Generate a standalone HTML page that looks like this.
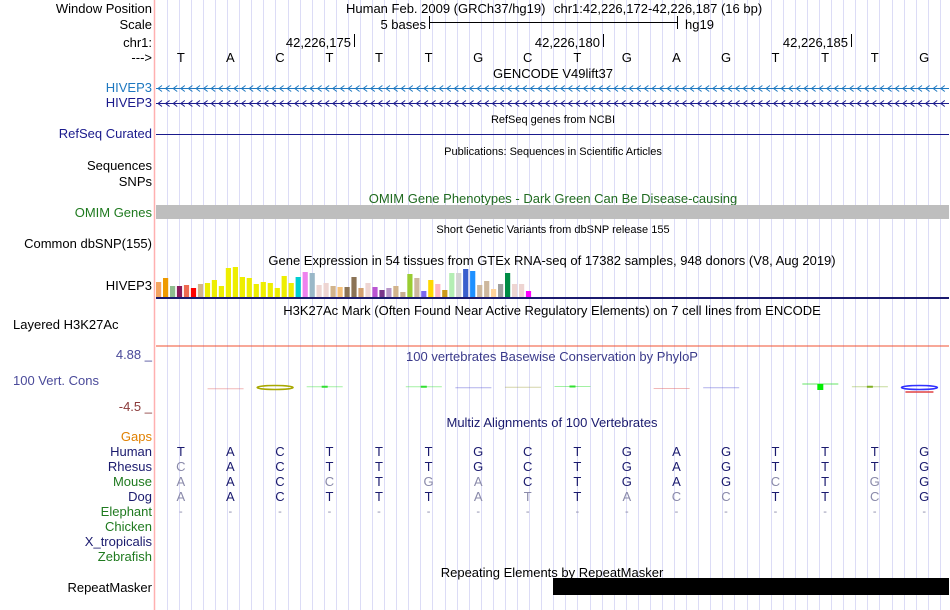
<!DOCTYPE html>
<html><head><meta charset="utf-8"><style>
html,body{margin:0;padding:0;background:#fff}
svg{display:block;font-family:"Liberation Sans",sans-serif}
</style></head><body>
<svg id="c" width="950" height="610" viewBox="0 0 950 610">
<g id="grid"></g>
<line x1="154.5" y1="0" x2="154.5" y2="610" stroke="#ffb0b0" stroke-width="1.5"/>
<g font-size="13" text-anchor="end">
<text x="152" y="13" fill="#000">Window Position</text>
<text x="152" y="29" fill="#000">Scale</text>
<text x="152" y="47" fill="#000">chr1:</text>
<text x="152" y="62" fill="#000">---&gt;</text>
<text x="152" y="92" fill="#1e78c0">HIVEP3</text>
<text x="152" y="107" fill="#1a1a8c">HIVEP3</text>
<text x="152" y="138" fill="#1a1a8c">RefSeq Curated</text>
<text x="152" y="170" fill="#000">Sequences</text>
<text x="152" y="186" fill="#000">SNPs</text>
<text x="152" y="217" fill="#1f7a1f">OMIM Genes</text>
<text x="152" y="248" fill="#000">Common dbSNP(155)</text>
<text x="152" y="290" fill="#000">HIVEP3</text>
<text x="13" y="329" text-anchor="start" fill="#000">Layered H3K27Ac</text>
<text x="152" y="359" fill="#4a4a9a">4.88 _</text>
<text x="99" y="385" fill="#4a4a9a">100 Vert. Cons</text>
<text x="152" y="411" fill="#8b3a3a">-4.5 _</text>
<text x="152" y="441" fill="#e08000">Gaps</text>
<text x="152" y="456" fill="#1a1a6e">Human</text>
<text x="152" y="471" fill="#1a1a6e">Rhesus</text>
<text x="152" y="486" fill="#1f7a1f">Mouse</text>
<text x="152" y="501" fill="#1a1a6e">Dog</text>
<text x="152" y="516" fill="#1f7a1f">Elephant</text>
<text x="152" y="531" fill="#1f7a1f">Chicken</text>
<text x="152" y="546" fill="#1a1a6e">X_tropicalis</text>
<text x="152" y="561" fill="#1f7a1f">Zebrafish</text>
<text x="152" y="592" fill="#000">RepeatMasker</text>
</g>
<g font-size="13" fill="#000">
<text x="346" y="13">Human Feb. 2009 (GRCh37/hg19)</text>
<text x="554" y="13">chr1:42,226,172-42,226,187 (16 bp)</text>
<text x="426" y="29" text-anchor="end">5 bases</text>
<line x1="429.5" y1="16" x2="429.5" y2="29" stroke="#000"/>
<line x1="429.5" y1="22.5" x2="677" y2="22.5" stroke="#000"/>
<line x1="677.5" y1="16" x2="677.5" y2="29" stroke="#000"/>
<text x="685" y="29">hg19</text>
<text x="351" y="47" text-anchor="end">42,226,175</text>
<line x1="354.5" y1="34" x2="354.5" y2="47" stroke="#000"/>
<text x="600" y="47" text-anchor="end">42,226,180</text>
<line x1="603.5" y1="34" x2="603.5" y2="47" stroke="#000"/>
<text x="848" y="47" text-anchor="end">42,226,185</text>
<line x1="851.5" y1="34" x2="851.5" y2="47" stroke="#000"/>
</g>
<g font-size="13" text-anchor="middle">
<text x="553" y="78" fill="#000">GENCODE V49lift37</text>
<text x="553" y="123" font-size="11" fill="#000">RefSeq genes from NCBI</text>
<text x="553" y="155" font-size="11" fill="#000">Publications: Sequences in Scientific Articles</text>
<text x="553" y="203" fill="#1f6a1f">OMIM Gene Phenotypes - Dark Green Can Be Disease-causing</text>
<text x="553" y="233" font-size="11" fill="#000">Short Genetic Variants from dbSNP release 155</text>
<text x="552" y="265" fill="#000">Gene Expression in 54 tissues from GTEx RNA-seq of 17382 samples, 948 donors (V8, Aug 2019)</text>
<text x="552" y="315" fill="#000">H3K27Ac Mark (Often Found Near Active Regulatory Elements) on 7 cell lines from ENCODE</text>
<text x="552" y="361" fill="#3a3a8a">100 vertebrates Basewise Conservation by PhyloP</text>
<text x="552" y="427" fill="#1a1a6e">Multiz Alignments of 100 Vertebrates</text>
<text x="552" y="577" fill="#000">Repeating Elements by RepeatMasker</text>
</g>
<line x1="156" y1="134.5" x2="949" y2="134.5" stroke="#1a1a8c"/>
<rect x="156" y="205" width="793" height="14" fill="#bebebe"/>
<line x1="156" y1="298" x2="949" y2="298" stroke="#1a1a6e" stroke-width="2"/>
<line x1="156" y1="346" x2="949" y2="346" stroke="#f05030" stroke-width="1"/>
<rect x="553" y="578" width="396" height="17" fill="#000"/>
<g id="strands"></g>
<g id="gtex"></g>
<g id="cons"></g>
<g id="seq" font-size="13" text-anchor="middle"></g>
</svg>
<script>
const NS='http://www.w3.org/2000/svg';
const bases=['T','A','C','T','T','T','G','C','T','G','A','G','T','T','T','G'];
const rhesus=['C','A','C','T','T','T','G','C','T','G','A','G','T','T','T','G'];
const mouse=['A','A','C','C','T','G','A','C','T','G','A','G','C','T','G','G'];
const dog=['A','A','C','T','T','T','A','T','T','A','C','C','T','T','C','G'];
const gtexValues=[15,19,11,11,12,9,13,14,17,11,29,30,20,19,13,15,14,9,21,14,20,25,24,12,14,11,10,10,20,9,14,10,7,9,11,5,23,19,6,17,13,7,24,24,28,26,12,16,8,13,24,13,13,6];
const gtexColors=['#f4a460','#ee9a00','#8fbc8f','#8b1a5a','#ee6a50','#ff0000','#d2b48c','#eeee00','#eeee00','#eeee00','#eeee00','#eeee00','#eeee00','#eeee00','#eeee00','#eeee00','#eeee00','#eeee00','#eeee00','#eeee00','#00ced1','#ee82ee','#9ab8c8','#eed5d2','#eed5d2','#d2b48c','#f4c07a','#8b7355','#8b7355','#d2a070','#eed5d2','#ba55d3','#7a378b','#b896c8','#d2b48c','#c8b090','#9acd32','#cdb79e','#7b68ee','#ffd700','#ffb6c1','#cd9b1d','#b4eeb4','#d3d3d3','#3a5fcd','#1e90ff','#cdb79e','#cdb79e','#ffd39b','#a0a0a0','#008b45','#eed5d2','#eed5d2','#ff00ff'];
const phylopBaseIdx=[1,2,3,5,6,7,8,10,11,13,14,15];
const phylopScores=[-0.3,0.2,0.5,0.5,0.1,0.3,0.6,-0.2,0.1,1.6,0.5,0.2];
const phylopColors=['#e06060','#a8a800','#30e030','#30e030','#5050d0','#a0a040','#30e030','#e06060','#5050d0','#40e040','#80b020','#3030ff'];
const phylopStyle=['line','loop','dash','dash','line','line','dash','line','line','square','dash','loop'];

const X0=156, BW=793/16;
const bx=i=>X0+BW*(i+0.5);
const yCons=v=>388-v*2.5;
function mk(tag,attrs,parent){const e=document.createElementNS(NS,tag);for(const k in attrs)e.setAttribute(k,attrs[k]);parent.appendChild(e);return e;}
const grid=document.getElementById('grid');
for(let x=166.7;x<949;x+=12.08){
  const l=mk('line',{x1:Math.round(x)+0.5,y1:0,x2:Math.round(x)+0.5,y2:610,stroke:'#dcdcf6'},grid);
  
  
}
const st=document.getElementById('strands');
[[88,'#1e78c0'],[103,'#1a1a8c']].forEach(([y,c])=>{
  let d=`M156 ${y}.5H949`;
  for(let x=158;x<946;x+=7.6){d+=`M${x+4} ${y-2.5}L${x} ${y+0.5}L${x+4} ${y+3.5}`;}
  const p=mk('path',{d:d,stroke:c,fill:'none','stroke-width':1},st);
  
  
});
const g=document.getElementById('gtex');
const yBase=297, pitch=6.98;
gtexValues.forEach((v,i)=>{
  const r=mk('rect',{x:(X0+i*pitch).toFixed(1),y:yBase-v,width:5.2,height:v,fill:gtexColors[i]},g);
  
  
});
const cons=document.getElementById('cons');
phylopBaseIdx.forEach((b,k)=>{
  const x1=X0+BW*b+2, x2=X0+BW*b+38, cx=(x1+x2)/2, y=yCons(phylopScores[k]);
  const c=phylopColors[k], s=phylopStyle[k];
  let e;
  if(s==='loop'){
    e=mk('ellipse',{cx:cx,cy:y,rx:18,ry:2,fill:'none',stroke:c,'stroke-width':1.5},cons);
    if(k===phylopBaseIdx.length-1){mk('line',{x1:x1+4,y1:y+4.5,x2:x2-4,y2:y+4.5,stroke:'#e04040','stroke-width':1.5},cons);}
  } else {
    e=mk('line',{x1:x1,y1:y,x2:x2,y2:y,stroke:c,'stroke-opacity':s==='square'?0.8:0.45},cons);
    if(s==='dash') mk('rect',{x:cx-3,y:y-1,width:6,height:2,fill:c},cons);
    if(s==='square') mk('rect',{x:cx-3,y:y,width:6,height:6,fill:'#00ee00'},cons);
  }
  
  
});
const seq=document.getElementById('seq');
function row(arr,y,name,ref){
  arr.forEach((b,i)=>{
    const same=!ref||b===ref[i];
    const t=mk('text',{x:bx(i).toFixed(1),y:y,fill:(ref?(same?'#1a1a6e':'#8a8aaa'):'#000')},seq);
    t.textContent=b;
    
    
  });
}
row(bases,62,'ref-base',null);
row(bases,456,'human-base',bases);
row(rhesus,471,'rhesus-base',bases);
row(mouse,486,'mouse-base',bases);
row(dog,501,'dog-base',bases);
bases.forEach((b,i)=>{
  const t=mk('text',{x:bx(i).toFixed(1),y:515,fill:'#8a8aaa','font-size':11},seq);
  t.textContent='-';
  
  
});
</script>
</body></html>
